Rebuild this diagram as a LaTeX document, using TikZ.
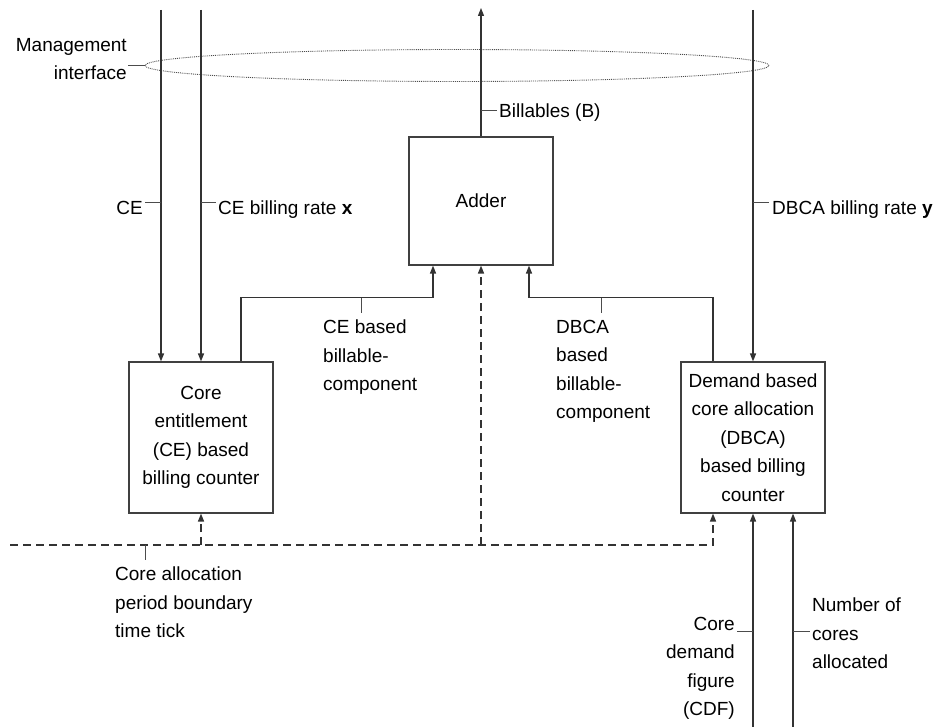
\documentclass[tikz,border=0pt]{standalone}
\usepackage{fontspec}
\setmainfont{Liberation Sans}
\usetikzlibrary{arrows.meta,shapes.geometric}
\begin{document}
\begin{tikzpicture}[x=1pt, y=-1pt,
font=\fontsize{19}{28.5}\selectfont,
counterbox/.style={rectangle, draw=black!75, line width=1.1pt, align=center, minimum width=144, minimum height=151, inner sep=0pt},
lbl/.style={inner sep=0pt, align=left},
to/.style={-{Triangle[length=8pt,width=6pt]}, draw=black!80, line width=1.2pt},
timing/.style={to, dash pattern=on 8pt off 5pt},
tick/.style={draw=black!70, line width=0.9pt},
]
\useasboundingbox (0,0) rectangle (938,727);
%nodes
\node[counterbox] (ce) at (201,437.5) {Core\\entitlement\\(CE) based\\billing counter};
\node[counterbox] (dbca) at (753,437.5) {Demand based\\core allocation\\(DBCA)\\based billing\\counter};
\node[counterbox, minimum height=128] (adder) at (481,201) {Adder};
\node[ellipse, draw=black!70, densely dotted, line width=0.9pt, minimum width=624, minimum height=32, inner sep=0pt] (mgmt) at (457,65.5) {};
%free ends
\coordinate (ceIn) at (161,10);
\coordinate (rateX) at (201,10);
\coordinate (rateY) at (753,10);
\coordinate (billOut) at (481,8);
\coordinate (tickStart) at (10,545);
\coordinate (cdfIn) at (753,727);
\coordinate (coresIn) at (793,727);
%connections
\draw[to] (ceIn) -- (ceIn |- ce.north);
\draw[to] (rateX) -- (ce.north);
\draw[to] (rateY) -- (dbca.north);
\draw[to] (adder.north) -- (billOut);
\draw[to] ([xshift=40]ce.north) -- ++(0,-64) coordinate (ceJoin) -| ([xshift=-48]adder.south);
\draw[to] ([xshift=-40]dbca.north) -- ++(0,-64) coordinate (dbcaJoin) -| ([xshift=48]adder.south);
\draw[timing] (tickStart) -| ([xshift=-40]dbca.south);
\draw[timing] (ce.south |- tickStart) -- (ce.south);
\draw[timing] (adder.south |- tickStart) -- (adder.south);
\draw[to] (cdfIn) -- (dbca.south);
\draw[to] (coresIn) -- (coresIn |- dbca.south);
%labels
\node[lbl, align=right, anchor=north east] (mgmtLbl) at (127,38) {Management\\interface};
\draw[tick] (mgmt.west) -- ++(-17,0);
\node[lbl, anchor=base west] (billLbl) at (499,118) {Billables (B)};
\draw[tick] (481,110) -- ++(16,0);
\node[lbl, anchor=base east] (ceLbl) at (143,215) {CE};
\draw[tick] (161,202) -- ++(-16,0);
\node[lbl, anchor=base west] (xLbl) at (218,215) {CE billing rate \textbf{x}};
\draw[tick] (201,202) -- ++(15,0);
\node[lbl, anchor=base west] (yLbl) at (772,215) {DBCA billing rate \textbf{y}};
\draw[tick] (753,202) -- ++(16,0);
\node[lbl, anchor=north west] (ceBillLbl) at (323,320) {CE based\\billable-\\component};
\draw[tick] (361,298) -- ++(0,15);
\node[lbl, anchor=north west] (dbcaBillLbl) at (556,320) {DBCA\\based\\billable-\\component};
\draw[tick] (601,298) -- ++(0,15);
\node[lbl, anchor=north west] (tickLbl) at (115,567) {Core allocation\\period boundary\\time tick};
\draw[tick] (145,545) -- ++(0,15);
\node[lbl, align=right, anchor=north east] (cdfLbl) at (735,617) {Core\\demand\\figure\\(CDF)};
\draw[tick] (753,631) -- ++(-16,0);
\node[lbl, anchor=north west] (coresLbl) at (812,598) {Number of\\cores\\allocated};
\draw[tick] (793,631) -- ++(17,0);
\end{tikzpicture}
\end{document}
